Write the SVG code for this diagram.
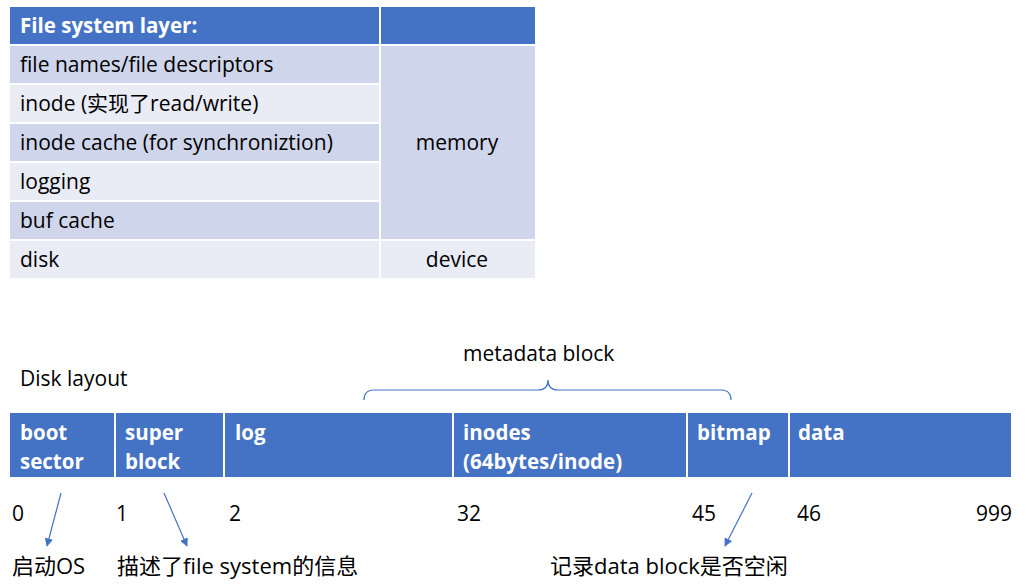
<svg xmlns="http://www.w3.org/2000/svg" width="1030" height="587" viewBox="0 0 1030 587">
<style>
text{font-family:"Open Sans","Noto Sans CJK SC",sans-serif;font-size:21px;fill:#000}
.hdr{fill:#4472C4}
.dk{fill:#CFD5EA}
.lt{fill:#E9EBF5}
.w{fill:#fff;font-weight:bold;font-size:20.5px}
.c{text-anchor:middle}
.ln{fill:none;stroke:#4472C4;stroke-width:1.2}
</style>
<defs>
<marker id="ah" viewBox="0 0 10 10" refX="9" refY="5" markerWidth="7" markerHeight="7" orient="auto">
<path d="M0,0 L10,5 L0,10 z" fill="#4472C4"/>
</marker>
</defs>
<rect width="1030" height="587" fill="#fff"/>
<g id="table">
<rect class="hdr" x="10" y="7" width="369" height="37"/>
<rect class="hdr" x="381" y="7" width="154" height="37"/>
<rect class="dk" x="10" y="46" width="369" height="37"/>
<rect class="lt" x="10" y="85" width="369" height="37"/>
<rect class="dk" x="10" y="124" width="369" height="37"/>
<rect class="lt" x="10" y="163" width="369" height="37"/>
<rect class="dk" x="10" y="202" width="369" height="37"/>
<rect class="lt" x="10" y="241" width="369" height="37"/>
<rect class="dk" x="381" y="46" width="154" height="193"/>
<rect class="lt" x="381" y="241" width="154" height="37"/>
<text class="w" x="20" y="33">File system layer:</text>
<text x="20" y="72">file names/file descriptors</text>
<text x="20" y="111">inode (实现了read/write)</text>
<text x="20" y="150">inode cache (for synchroniztion)</text>
<text x="20" y="189">logging</text>
<text x="20" y="228">buf cache</text>
<text x="20" y="267">disk</text>
<text class="c" x="457" y="150">memory</text>
<text class="c" x="457" y="267">device</text>
</g>
<text x="20" y="386">Disk layout</text>
<text x="463" y="361">metadata block</text>
<g id="boot"><rect class="hdr" x="10" y="413" width="104" height="64"/><text class="w" x="20" y="440">boot</text><text class="w" x="20" y="469">sector</text></g>
<g id="super"><rect class="hdr" x="116" y="413" width="107" height="64"/><text class="w" x="125" y="440">super</text><text class="w" x="125" y="469">block</text></g>
<g id="log"><rect class="hdr" x="225" y="413" width="227" height="64"/><text class="w" x="235" y="440">log</text></g>
<g id="inodes"><rect class="hdr" x="454" y="413" width="232" height="64"/><text class="w" x="463" y="440">inodes</text><text class="w" x="463" y="469">(64bytes/inode)</text></g>
<g id="bitmap"><rect class="hdr" x="688" y="413" width="100" height="64"/><text class="w" x="697" y="440">bitmap</text></g>
<g id="data"><rect class="hdr" x="790" y="413" width="221" height="64"/><text class="w" x="798" y="440">data</text></g>
<g id="numbers">
<text x="12" y="521">0</text>
<text x="116" y="521">1</text>
<text x="229" y="521">2</text>
<text x="457" y="521">32</text>
<text x="692" y="521">45</text>
<text x="797" y="521">46</text>
<text x="1012" y="521" text-anchor="end">999</text>
</g>
<g id="notes" style="font-size:22px">
<text x="12" y="574" style="font-size:22px">启动OS</text>
<text x="117" y="574" style="font-size:22px">描述了file system的信息</text>
<text x="550" y="574" style="font-size:22px">记录data block是否空闲</text>
</g>
<g id="connectors">
<path class="ln" d="M364,400 Q364,390 374,390 L538,390 Q548,390 548,380 Q548,390 558,390 L721,390 Q731,390 731,400"/>
<line class="ln" x1="61" y1="493" x2="47" y2="546" marker-end="url(#ah)"/>
<line class="ln" x1="164" y1="493" x2="187" y2="546" marker-end="url(#ah)"/>
<line class="ln" x1="752" y1="493" x2="725" y2="546" marker-end="url(#ah)"/>
</g>
</svg>
